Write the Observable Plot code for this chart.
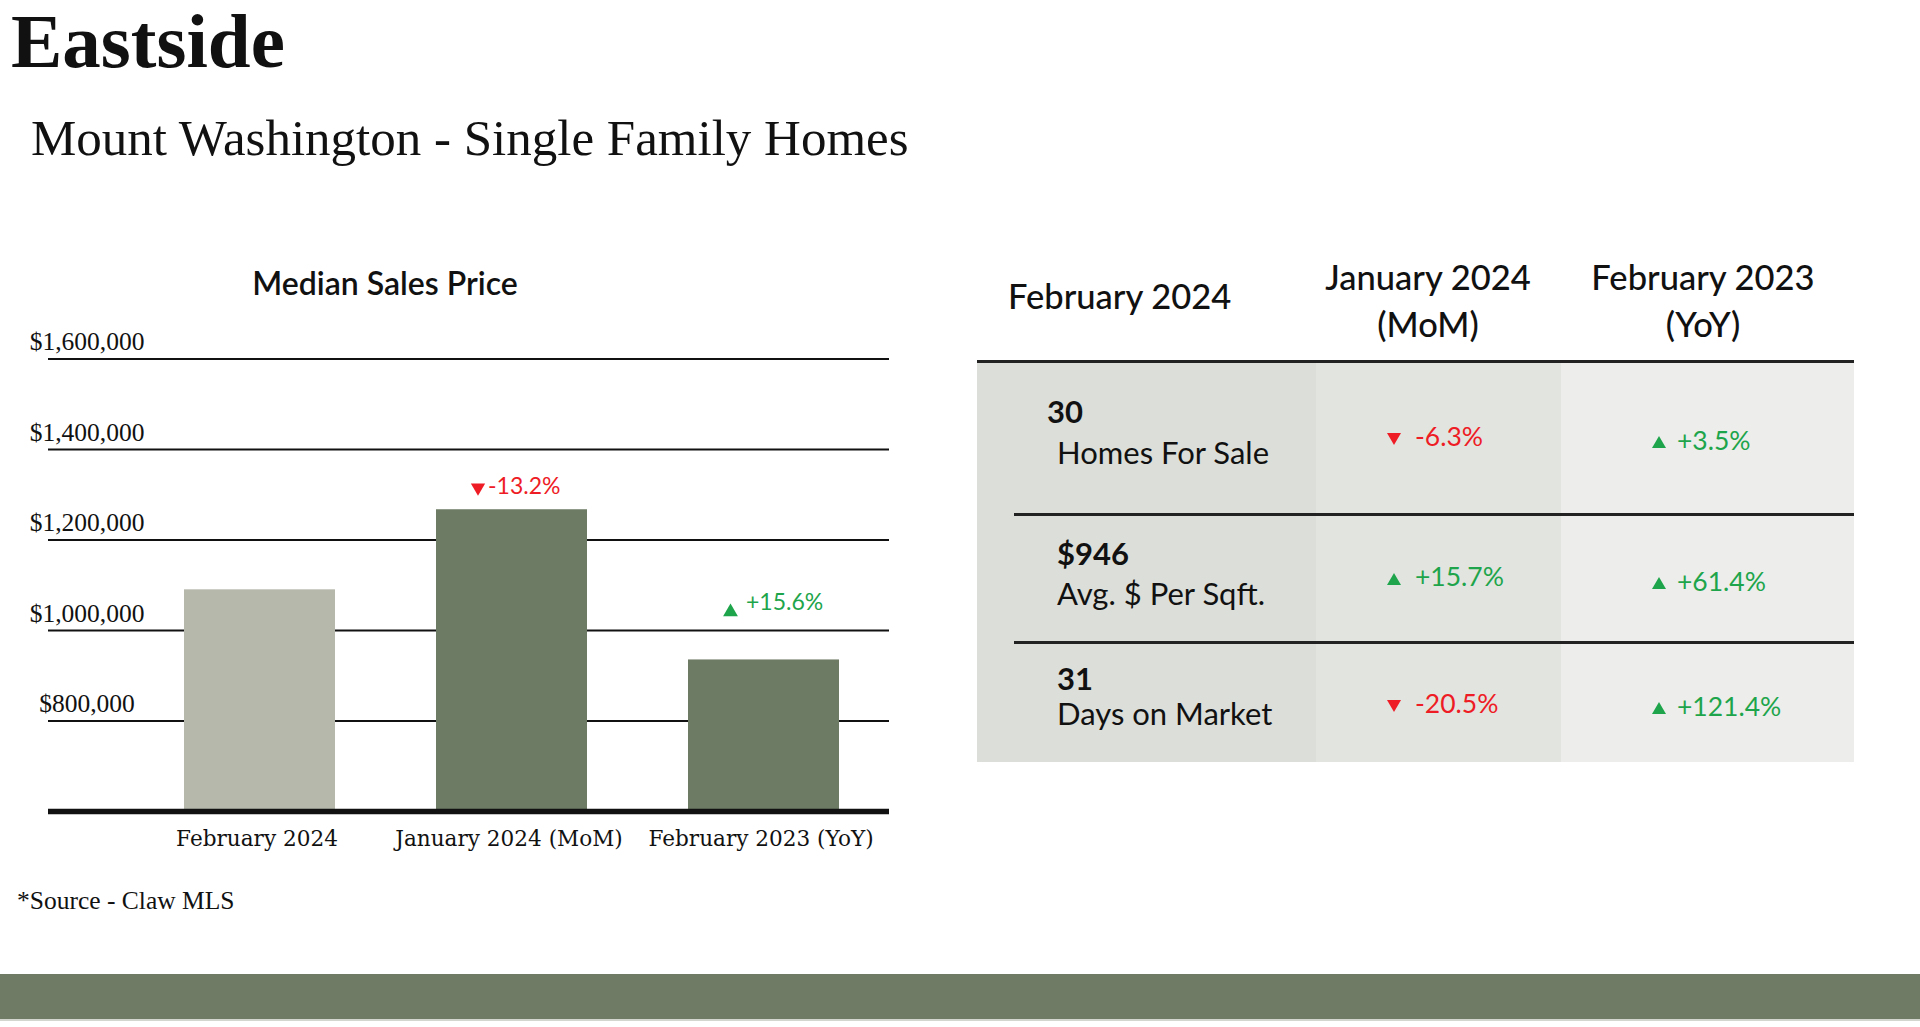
<!DOCTYPE html>
<html>
<head>
<meta charset="utf-8">
<script src="https://cdn.jsdelivr.net/npm/d3@7"></script>
<script src="https://cdn.jsdelivr.net/npm/@observablehq/plot@0.6"></script>
<style>
  html, body { margin: 0; padding: 0; background: #fff; }
  body { width: 1920px; height: 1027px; position: relative; overflow: hidden; }
  .t { position: absolute; white-space: nowrap; color: #111; }
  .box { position: absolute; }
</style>
</head>
<body>
<script>
// ---------------- DATA ----------------
const pageTitle = "Eastside";
const pageSubtitle = "Mount Washington - Single Family Homes";
const chartTitle = "Median Sales Price";
const sourceNote = "*Source - Claw MLS";

const categories = ["February 2024", "January 2024 (MoM)", "February 2023 (YoY)"];
const prices = [1090000, 1267000, 935000];
const priceChanges = [null, -13.2, 15.6];
const yTicks = [800000, 1000000, 1200000, 1400000, 1600000];
const yDomain = [600000, 1600000];

const tableHeaders = [["February 2024"], ["January 2024", "(MoM)"], ["February 2023", "(YoY)"]];
const metricValues = ["30", "$946", "31"];
const metricLabels = ["Homes For Sale", "Avg. $ Per Sqft.", "Days on Market"];
const momChanges = [-6.3, 15.7, -20.5];
const yoyChanges = [3.5, 61.4, 121.4];

// ---------------- STYLE ----------------
const RED = "#EE1C25", GREEN = "#1EA54B";
const BAR_LIGHT = "#B5B8AB", BAR_DARK = "#6E7B64";
const SERIF = "'Liberation Serif', serif";
const SANS = "Lato, 'Open Sans', sans-serif";
const fmtPct = v => (v > 0 ? "+" : "") + v.toFixed(1) + "%";

function txt(str, x, capCenter, fs, opts = {}) {
  const d = document.createElement("div");
  d.className = "t";
  d.textContent = str;
  const k = opts.k ?? 0.51;
  d.style.left = x + "px";
  d.style.top = (capCenter - k * fs) + "px";
  d.style.fontSize = fs + "px";
  d.style.lineHeight = fs + "px";
  d.style.fontFamily = opts.font || SANS;
  if (opts.weight) d.style.fontWeight = opts.weight;
  if (opts.color) d.style.color = opts.color;
  if (opts.center) d.style.transform = "translateX(-50%)";
  document.body.appendChild(d);
  return d;
}
function box(x0, y0, w, h, bg) {
  const d = document.createElement("div");
  d.className = "box";
  Object.assign(d.style, {left: x0 + "px", top: y0 + "px", width: w + "px", height: h + "px", background: bg});
  document.body.appendChild(d);
  return d;
}
function tri(left, cy, up, color) {
  const d = document.createElement("div");
  d.className = "box";
  const w = 7, h = 12;
  Object.assign(d.style, {left: left + "px", top: (cy - h / 2) + "px", width: 0, height: 0,
    borderLeft: w + "px solid transparent", borderRight: w + "px solid transparent"});
  if (up) d.style.borderBottom = h + "px solid " + color; else d.style.borderTop = h + "px solid " + color;
  document.body.appendChild(d);
}

// ---------------- HEADINGS ----------------
txt(pageTitle, 11, 42, 77, {font: SERIF, weight: 700});
txt(pageSubtitle, 31, 139, 51, {font: SERIF});
txt(chartTitle, 385, 283.5, 32, {font: SANS, weight: 600, center: true, k: 0.53});
txt(sourceNote, 17, 901.5, 25.5, {font: SERIF});

// ---------------- CHART ----------------
const data = categories.map((c, i) => ({cat: c, price: prices[i], change: priceChanges[i], i}));
const downSym = {draw(ctx, size) { const y = Math.sqrt(size / (3 * Math.sqrt(3))); ctx.moveTo(0, 2 * y); ctx.lineTo(-Math.sqrt(3) * y, -y); ctx.lineTo(Math.sqrt(3) * y, -y); ctx.closePath(); }};
const upSym = {draw(ctx, size) { const y = -Math.sqrt(size / (3 * Math.sqrt(3))); ctx.moveTo(0, 2 * y); ctx.lineTo(-Math.sqrt(3) * y, -y); ctx.lineTo(Math.sqrt(3) * y, -y); ctx.closePath(); }};
const downs = data.filter(d => d.change != null && d.change < 0);
const ups = data.filter(d => d.change != null && d.change > 0);

const chart = Plot.plot({
  width: 900, height: 560,
  marginTop: 58.6, marginBottom: 49, marginLeft: 48, marginRight: 11,
  style: {background: "transparent", color: "#111", overflow: "visible"},
  x: {domain: categories, range: [133, 890], paddingInner: 0.4, paddingOuter: 0.2, label: null},
  y: {domain: yDomain, label: null},
  color: {type: "identity"},
  marks: [
    Plot.ruleY(yTicks, {stroke: "#111", strokeWidth: 2}),
    Plot.barY(data, {x: "cat", y1: yDomain[0], y2: "price", fill: d => d.i === 0 ? BAR_LIGHT : BAR_DARK}),
    Plot.ruleY([yDomain[0]], {stroke: "#111", strokeWidth: 5.5}),
    Plot.axisY({ticks: yTicks, tickFormat: d3.format("$,"), tickSize: 0, tickPadding: 0,
      textAnchor: "middle", dx: 38.5, dy: -17, fontSize: 25.5, fontFamily: SERIF, label: null}),
    Plot.axisX({tickSize: 0, tickPadding: 19, dx: -3, fontSize: 21.6, fontFamily: "'DejaVu Serif', serif", label: null}),
    Plot.text(downs, {x: "cat", y: "price", text: d => fmtPct(d.change), textAnchor: "start",
      dx: -24, dy: -23, fill: RED, fontFamily: SANS, fontSize: 23}),
    Plot.dot(downs, {x: "cat", y: "price", symbol: downSym, r: 5.3, fill: RED, stroke: "none", dx: -34, dy: -22.2}),
    Plot.text(ups, {x: "cat", y: "price", text: d => fmtPct(d.change), textAnchor: "start",
      dx: -18, dy: -57.6, fill: GREEN, fontFamily: SANS, fontSize: 23}),
    Plot.dot(ups, {x: "cat", y: "price", symbol: upSym, r: 5.5, fill: GREEN, stroke: "none", dx: -33.5, dy: -47.9})
  ]
});
const holder = document.createElement("div");
Object.assign(holder.style, {position: "absolute", left: "0px", top: "300px"});
holder.appendChild(chart);
document.body.appendChild(holder);

// ---------------- TABLE ----------------
const colEdges = [977, 1316, 1561, 1854];
const colBgs = ["#DCDED9", "#E2E4E0", "#EDEDEB"];
const tTop = 361, tBottom = 762;
colBgs.forEach((bg, i) => box(colEdges[i], tTop, colEdges[i + 1] - colEdges[i], tBottom - tTop, bg));
box(977, tTop - 1, 877, 2.5, "#222");
[514, 642].forEach(y => box(1014, y - 1, 840, 2.5, "#222"));

// headers
const HF = 34.5;
txt(tableHeaders[0][0], 1008, 297, HF, {weight: 500, k: 0.53});
txt(tableHeaders[1][0], 1428, 278.5, HF, {weight: 500, k: 0.53, center: true});
txt(tableHeaders[1][1], 1428, 325, HF, {weight: 500, k: 0.53, center: true});
txt(tableHeaders[2][0], 1703, 278.5, HF, {weight: 500, k: 0.53, center: true});
txt(tableHeaders[2][1], 1703, 325, HF, {weight: 500, k: 0.53, center: true});

const valueY = [412.7, 554.7, 679.6];
const valueX = [1047, 1057, 1057];
const labelY = [453, 594, 714];
const momY = [437, 577, 704];
const yoyY = [441, 582, 707];
metricValues.forEach((v, i) => {
  txt(v, valueX[i], valueY[i], 31, {weight: 700, k: 0.53});
  txt(metricLabels[i], 1057, labelY[i], 31, {k: 0.53});
  const m = momChanges[i], y = yoyChanges[i];
  tri(1387, momY[i] + 2, m > 0, m > 0 ? GREEN : RED);
  txt(fmtPct(m), 1415, momY[i], 26.5, {k: 0.53, color: m > 0 ? GREEN : RED});
  tri(1652, yoyY[i] + 1, y > 0, y > 0 ? GREEN : RED);
  txt(fmtPct(y), 1677, yoyY[i], 26.5, {k: 0.53, color: y > 0 ? GREEN : RED});
});

// ---------------- FOOTER BAND ----------------
box(0, 974, 1920, 45, "#6F7B64");
box(0, 1019, 1920, 2, "#D3D6CF");
</script>
</body>
</html>
